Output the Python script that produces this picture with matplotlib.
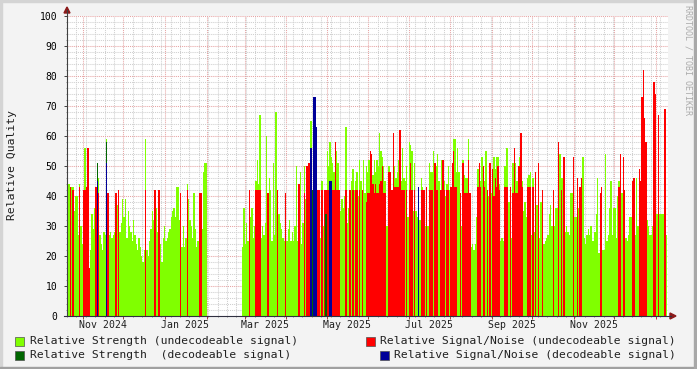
#!/usr/bin/env python3
"""
Redraw the RRDtool "Relative Quality" chart (daily signal strength and
signal/noise, undecodeable vs decodeable) with matplotlib -> out.png
"""

import datetime as dt

import matplotlib
matplotlib.use("Agg")
import matplotlib.pyplot as plt
import matplotlib.dates as mdates
from matplotlib.lines import Line2D
from matplotlib.patches import Rectangle, Polygon
from matplotlib.ticker import NullFormatter

W, H = 697, 369
FIRST_DAY = dt.datetime(2024, 10, 20)

# one value per day starting FIRST_DAY, 0 = no sample that day
strength_undec = [
    # Oct 20-31 2024
    38, 44, 38, 43, 43, 35, 40, 40, 27, 44, 30, 24,
    # Nov 2024
    24, 56, 42, 42, 0, 22, 34, 29, 36, 38, 0, 46, 27, 24, 22,
    28, 27, 59, 28, 27, 28, 26, 27, 28, 27, 37, 37, 28, 31, 39,
    # Dec 2024
    33, 39, 26, 35, 30, 28, 25, 32, 27, 24, 22, 26, 23, 20, 18, 22,
    59, 22, 20, 25, 29, 35, 32, 30, 36, 28, 22, 24, 18, 26, 30,
    # Jan 2025
    25, 26, 28, 29, 33, 35, 36, 33, 43, 43, 32, 26, 23, 30, 23, 26,
    44, 39, 32, 30, 26, 41, 29, 23, 25, 23, 24, 29, 48, 51, 51,
    # Feb 2025 (no data most of the month)
    0, 0, 0, 0, 0, 0, 0, 0, 0, 0, 0, 0, 0, 0,
    0, 0, 0, 0, 0, 0, 0, 0, 0, 0, 0, 0, 23, 36,
    # Mar 2025
    24, 31, 25, 25, 33, 36, 26, 30, 45, 52, 44, 67, 26, 30, 27, 31,
    60, 31, 46, 42, 25, 51, 27, 68, 39, 34, 31, 29, 26, 25, 25,
    # Apr 2025
    25, 29, 32, 25, 28, 25, 30, 50, 25, 25, 48, 24, 31, 50, 39,
    29, 30, 0, 65, 0, 0, 0, 0, 40, 26, 26, 45, 30, 30, 30,
    # May 2025
    55, 50, 58, 53, 51, 48, 48, 55, 51, 36, 35, 39, 36, 40, 63, 31,
    36, 34, 45, 49, 42, 45, 48, 40, 52, 45, 41, 52, 41, 50, 48,
    # Jun 2025
    52, 50, 50, 47, 52, 48, 52, 50, 61, 55, 53, 50, 45, 30, 30,
    50, 48, 42, 45, 50, 46, 48, 52, 52, 45, 56, 46, 45, 50, 33,
    # Jul 2025
    58, 57, 55, 35, 51, 35, 33, 30, 32, 46, 43, 30, 30, 30, 30, 51,
    48, 48, 55, 45, 50, 54, 45, 42, 52, 48, 45, 40, 44, 50, 42,
    # Aug 2025
    42, 50, 59, 59, 48, 56, 48, 30, 30, 52, 47, 46, 46, 59, 41, 23,
    24, 22, 24, 33, 49, 49, 45, 53, 48, 45, 55, 40, 40, 41, 41,
    # Sep 2025
    41, 53, 49, 53, 53, 44, 25, 26, 25, 50, 56, 56, 38, 32, 26,
    51, 49, 51, 45, 47, 53, 47, 45, 35, 38, 33, 46, 47, 48, 27,
    # Oct 2025
    46, 28, 37, 37, 27, 26, 38, 26, 24, 25, 26, 27, 34, 37, 30, 34,
    30, 36, 36, 36, 54, 46, 46, 30, 28, 30, 28, 27, 41, 41, 33,
    # Nov 2025
    33, 33, 36, 36, 42, 40, 53, 26, 24, 27, 29, 27, 30, 25, 25,
    28, 34, 46, 21, 25, 38, 22, 22, 54, 25, 27, 36, 45, 27, 36,
    # Dec 2025
    36, 26, 40, 45, 40, 41, 42, 40, 26, 25, 27, 33, 33, 36, 36, 27,
    46, 30, 30, 30, 30, 30, 30, 32, 32, 30, 27, 27, 30, 30, 34,
    # Jan 1-9 2026
    34, 34, 34, 34, 34, 34, 34, 27, 0,
]

snr_undec = [
    # Oct 20-31 2024
    42, 0, 43, 0, 42, 0, 0, 0, 0, 43, 0, 0,
    # Nov 2024
    42, 42, 43, 56, 16, 0, 0, 0, 0, 43, 0, 41, 0, 0, 0,
    0, 0, 0, 41, 0, 0, 0, 0, 0, 41, 0, 42, 0, 0, 0,
    # Dec 2024
    0, 0, 0, 0, 0, 0, 0, 0, 0, 0, 0, 0, 0, 0, 0, 0,
    42, 0, 0, 0, 0, 0, 0, 42, 0, 0, 42, 0, 0, 0, 0,
    # Jan 2025
    0, 0, 0, 0, 0, 0, 0, 0, 0, 0, 0, 41, 0, 0, 0, 0,
    42, 0, 0, 0, 0, 0, 0, 0, 0, 41, 41, 0, 0, 0, 0,
    # Feb 2025
    0, 0, 0, 0, 0, 0, 0, 0, 0, 0, 0, 0, 0, 0,
    0, 0, 0, 0, 0, 0, 0, 0, 0, 0, 0, 0, 0, 0,
    # Mar 2025
    0, 0, 0, 42, 0, 0, 0, 0, 42, 42, 42, 42, 0, 0, 0, 0,
    0, 41, 0, 0, 0, 0, 0, 0, 42, 0, 0, 0, 0, 0, 41,
    # Apr 2025
    0, 0, 0, 0, 0, 0, 0, 0, 0, 44, 0, 0, 0, 41, 0,
    50, 51, 51, 0, 0, 0, 0, 0, 42, 42, 0, 42, 0, 42, 42,
    # May 2025
    42, 42, 0, 0, 42, 42, 58, 42, 42, 42, 0, 0, 0, 0, 42, 0,
    0, 42, 0, 42, 0, 42, 42, 0, 42, 0, 42, 0, 0, 38, 41,
    # Jun 2025
    41, 55, 54, 44, 41, 44, 41, 41, 44, 45, 50, 41, 41, 0, 0,
    48, 48, 42, 61, 43, 43, 43, 43, 62, 42, 42, 42, 0, 42, 0,
    # Jul 2025
    42, 51, 42, 0, 42, 0, 0, 0, 0, 42, 42, 42, 0, 43, 0, 42,
    42, 42, 0, 51, 42, 42, 0, 42, 42, 52, 42, 0, 42, 42, 0,
    # Aug 2025
    43, 51, 55, 43, 43, 0, 0, 41, 0, 51, 41, 41, 41, 52, 41, 0,
    0, 0, 0, 0, 43, 51, 43, 0, 50, 43, 0, 42, 0, 51, 0,
    # Sep 2025
    49, 40, 46, 43, 50, 42, 0, 0, 0, 43, 43, 43, 0, 43, 0,
    41, 56, 41, 41, 50, 50, 61, 43, 0, 0, 0, 43, 43, 43, 0,
    # Oct 2025
    43, 0, 48, 0, 51, 0, 0, 42, 0, 0, 0, 0, 0, 0, 0, 42,
    0, 0, 0, 58, 0, 42, 0, 53, 0, 0, 0, 0, 0, 0, 53,
    # Nov 2025
    0, 0, 46, 0, 43, 46, 0, 0, 0, 0, 0, 0, 0, 0, 0,
    0, 0, 0, 0, 41, 43, 0, 0, 0, 0, 0, 0, 0, 0, 0,
    # Dec 2025
    0, 0, 0, 43, 54, 0, 53, 42, 0, 0, 0, 0, 0, 45, 46, 0,
    0, 0, 49, 45, 73, 82, 66, 58, 0, 0, 0, 0, 0, 78, 74,
    # Jan 1-9 2026
    0, 67, 0, 0, 0, 0, 69, 0, 0,
]

# decodeable days are rare, keep them by date
strength_dec = {"2024-11-11": 51, "2024-11-18": 58,
                "2025-04-20": 42, "2025-04-30": 34}
snr_dec = {"2024-11-11": 45, "2024-11-18": 51, "2025-04-19": 56,
           "2025-04-21": 73, "2025-04-22": 73, "2025-04-23": 63,
           "2025-05-03": 45, "2025-05-04": 45, "2025-07-08": 43}

month_labels = ["Nov 2024", "Jan 2025", "Mar 2025", "May 2025",
                "Jul 2025", "Sep 2025", "Nov 2025"]

GREEN, RED, DKGREEN, BLUE = "#80FF00", "#FF0000", "#006600", "#000099"

legend_items = [
    (15, 337, GREEN, "Relative Strength (undecodeable signal)", 30),
    (366, 337, RED, "Relative Signal/Noise (undecodeable signal)", 380),
    (15, 351, DKGREEN, "Relative Strength  (decodeable signal)", 30),
    (380, 351, BLUE, "Relative Signal/Noise (decodeable signal)", 394),
]

MONO = "DejaVu Sans Mono"


def fx(x):
    return x / W


def fy(y):
    return 1 - y / H


def draw_bars(ax, days, values, color):
    xs = [d for d, v in zip(days, values) if v]
    hs = [v for v in values if v]
    ax.bar(xs, hs, width=1.0, align="edge", color=color,
           linewidth=0, antialiased=False)


def main():
    if len(strength_undec) != len(snr_undec):
        raise SystemExit("series length mismatch")
    days = [FIRST_DAY + dt.timedelta(days=i) for i in range(len(strength_undec))]

    fig = plt.figure(figsize=(W / 100, H / 100), dpi=100, facecolor="#F3F3F3")
    ax = fig.add_axes([fx(67), fy(316), (668 - 67) / W, 300 / H])
    ax.set_facecolor("white")

    draw_bars(ax, days, strength_undec, GREEN)
    draw_bars(ax, days, snr_undec, RED)
    for series, color in ((strength_dec, DKGREEN), (snr_dec, BLUE)):
        d = [dt.datetime.strptime(k, "%Y-%m-%d") for k in series]
        ax.bar(d, list(series.values()), width=1.0, align="edge",
               color=color, linewidth=0, antialiased=False)

    ax.set_xlim(FIRST_DAY, FIRST_DAY + dt.timedelta(days=446.8))
    ax.set_ylim(0, 100)

    # grid like rrdtool: red-ish major, gray minor
    ax.set_yticks(range(0, 101, 10))
    ax.set_yticks(range(0, 101, 2), minor=True)
    ax.xaxis.set_major_locator(mdates.MonthLocator())
    ax.xaxis.set_minor_locator(mdates.WeekdayLocator(byweekday=mdates.SU))
    ax.xaxis.set_major_formatter(NullFormatter())
    ax.grid(which="major", color="#E6A3A3", linestyle=(0, (1, 1)), linewidth=0.75)
    ax.grid(which="minor", color="#CFCFCF", linestyle=(0, (1, 1)), linewidth=0.75)
    ax.set_axisbelow(True)

    ax.tick_params(axis="y", which="major", length=2, width=0.7, color="#404040",
                   pad=5, labelsize=7)
    ax.tick_params(axis="y", which="minor", length=1, width=0.6, color="#808080")
    ax.tick_params(axis="x", which="major", length=2, width=0.7, color="#A04040")
    ax.tick_params(axis="x", which="minor", length=1, width=0.6, color="#808080")
    for lbl in ax.get_yticklabels():
        lbl.set_family(MONO)
    for s in ax.spines.values():
        s.set_visible(False)

    for lbl in month_labels:
        when = dt.datetime.strptime(lbl, "%b %Y") + dt.timedelta(days=15)
        ax.text(when, -0.03, lbl, transform=ax.get_xaxis_transform(),
                ha="center", va="center", fontsize=7.1, family=MONO, color="#202020")

    # axis lines with the little arrows
    fig.add_artist(Line2D([fx(67), fx(67)], [fy(316), fy(10)],
                          color="#404040", linewidth=0.8))
    fig.add_artist(Line2D([fx(64), fx(671)], [fy(316), fy(316)],
                          color="#303040", linewidth=0.8))
    fig.add_artist(Polygon([(fx(64), fy(13)), (fx(70), fy(13)), (fx(67), fy(7))],
                           closed=True, color="#8B1A1A"))
    fig.add_artist(Polygon([(fx(670), fy(313)), (fx(670), fy(319)), (fx(676), fy(316))],
                           closed=True, color="#8B1A1A"))

    fig.text(fx(12), fy(165), "Relative Quality", rotation=90, ha="center",
             va="center", fontsize=8.2, family=MONO, color="#202020")
    fig.text(fx(688), fy(5), "RRDTOOL / TOBI OETIKER", rotation=270, ha="center",
             va="top", fontsize=6, family=MONO, color="#ABABAB")

    for x, y, color, text, tx in legend_items:
        fig.add_artist(Rectangle((fx(x), fy(y + 9)), 9 / W, 9 / H, facecolor=color,
                                 edgecolor="#505050", linewidth=0.5))
        fig.text(fx(tx), fy(y + 4.5), text, ha="left", va="center",
                 fontsize=8.2, family=MONO, color="#202020")

    # frame around the whole image
    fig.add_artist(Rectangle((0, 1 - 2 / H), 1, 2 / H, color="#D4D4D4"))
    fig.add_artist(Rectangle((0, 0), 2 / W, 1, color="#D4D4D4"))
    fig.add_artist(Rectangle((0, 0), 1, 2 / H, color="#A0A0A0"))
    fig.add_artist(Rectangle((1 - 3 / W, 0), 3 / W, 1, color="#A8A8A8"))

    fig.savefig("out.png", dpi=100, facecolor=fig.get_facecolor())


if __name__ == "__main__":
    main()
